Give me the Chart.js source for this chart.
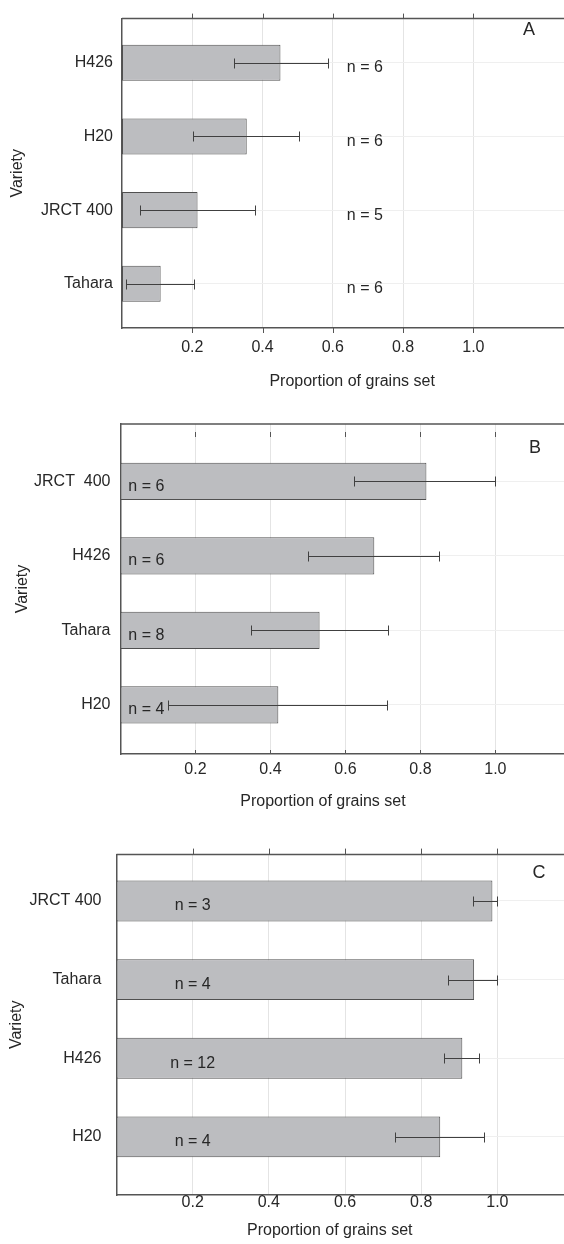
<!DOCTYPE html>
<html lang="en">
<head>
<meta charset="utf-8">
<title>Proportion of grains set</title>
<script src="https://cdn.jsdelivr.net/npm/chart.js@4.4.1/dist/chart.umd.min.js"></script>
<style>
  html, body { margin: 0; padding: 0; background: #fff; overflow: hidden; }
  .panel { position: relative; width: 564px; }
  #boxA { height: 400px; }
  #boxB { height: 430px; }
  #boxC { height: 414px; }
</style>
</head>
<body>
<div class="panel" id="boxA"><canvas id="chartA"></canvas></div>
<div class="panel" id="boxB"><canvas id="chartB"></canvas></div>
<div class="panel" id="boxC"><canvas id="chartC"></canvas></div>
<script>
// ───────────────────────── datos
const xTicks = [0.2, 0.4, 0.6, 0.8, 1.0];

const varietiesA = ['H426', 'H20', 'JRCT 400', 'Tahara'];
const meansA     = [0.451, 0.355, 0.215, 0.110];
const lowA       = [0.320, 0.203, 0.051, 0.012];
const highA      = [0.585, 0.505, 0.378, 0.206];
const nA         = [6, 6, 5, 6];

const varietiesB = ['JRCT  400', 'H426', 'Tahara', 'H20'];
const meansB     = [0.816, 0.677, 0.531, 0.421];
const lowB       = [0.624, 0.501, 0.349, 0.128];
const highB      = [1.000, 0.850, 0.714, 0.711];
const nB         = [6, 6, 8, 4];

const varietiesC = ['JRCT 400', 'Tahara', 'H426', 'H20'];
const meansC     = [0.987, 0.939, 0.908, 0.850];
const lowC       = [0.936, 0.871, 0.861, 0.732];
const highC      = [1.000, 1.000, 0.951, 0.966];
const nC         = [3, 4, 12, 4];

// ───────────────────────── estilos comunes
const FONT   = 'Liberation Sans, Arial, Helvetica, sans-serif';
const INK    = '#272727';
const FRAME  = '#555555';
const BAR    = '#bcbdc0';
const BAR_LN = '#505050';
const ERR_LN = '#404040';

// ───────────────────────── plugin: marco superior, ticks, barras de error, textos
const extras = {
  id: 'extras',
  afterDatasetsDraw (chart, args, o) {
    const { ctx, chartArea: a, scales: { x, y } } = chart;
    ctx.save();

    // marco superior
    ctx.strokeStyle = FRAME;
    ctx.lineWidth = 1.5;
    ctx.beginPath();
    ctx.moveTo(a.left, a.top);
    ctx.lineTo(a.right, a.top);
    ctx.stroke();

    // marcas de ticks (arriba y abajo)
    ctx.lineWidth = 1;
    ctx.beginPath();
    xTicks.forEach(v => {
      const px = Math.round(x.getPixelForValue(v)) + 0.5;
      if (o.topTick) {
        ctx.moveTo(px, a.top + o.topTick[0]);
        ctx.lineTo(px, a.top + o.topTick[1]);
      }
      if (o.bottomTick) {
        ctx.moveTo(px, a.bottom + o.bottomTick[0]);
        ctx.lineTo(px, a.bottom + o.bottomTick[1]);
      }
    });
    ctx.stroke();

    // barras de error
    ctx.strokeStyle = ERR_LN;
    ctx.beginPath();
    o.low.forEach((lo, i) => {
      const py = Math.round(y.getPixelForValue(i)) + 0.5;
      const x0 = Math.round(x.getPixelForValue(lo)) + 0.5;
      const x1 = Math.round(x.getPixelForValue(o.high[i])) + 0.5;
      ctx.moveTo(x0, py); ctx.lineTo(x1, py);
      ctx.moveTo(x0, py - 5); ctx.lineTo(x0, py + 5);
      ctx.moveTo(x1, py - 5); ctx.lineTo(x1, py + 5);
    });
    ctx.stroke();

    // etiquetas n = …
    ctx.fillStyle = INK;
    ctx.font = `16px ${FONT}`;
    ctx.textBaseline = 'middle';
    ctx.textAlign = o.nAlign;
    o.n.forEach((n, i) => {
      ctx.fillText(`n = ${n}`, x.getPixelForValue(o.nAt), y.getPixelForValue(i) + 5);
    });

    // letra del panel
    ctx.font = `18px ${FONT}`;
    ctx.textAlign = 'center';
    ctx.fillText(o.letter, o.letterPos[0], o.letterPos[1]);

    // título del eje x
    ctx.font = `16px ${FONT}`;
    ctx.fillText('Proportion of grains set', x.getPixelForValue(o.titleAt), o.titleY);

    ctx.restore();
  }
};

// ───────────────────────── construye un panel
function buildPanel (id, labels, means, p) {
  const ctx = document.getElementById(id).getContext('2d');
  return new Chart(ctx, {
    type: 'bar',
    data: {
      datasets: [{
        data: means.map((v, i) => ({ x: v, y: i })),
        backgroundColor: BAR,
        borderColor: BAR_LN,
        borderWidth: 1,
        borderSkipped: false,
        barPercentage: p.barPct,
        categoryPercentage: 1
      }]
    },
    options: {
      indexAxis: 'y',
      responsive: true,
      maintainAspectRatio: false,
      animation: false,
      layout: { padding: { top: p.top, left: 0, right: 0, bottom: 0 } },
      scales: {
        x: {
          type: 'linear',
          min: 0,
          max: p.xMax,
          afterBuildTicks: s => { s.ticks = xTicks.map(v => ({ value: v })); },
          afterFit: s => { s.height = p.xHeight; },
          ticks: {
            callback: v => v.toFixed(1),
            padding: p.xPad,
            maxRotation: 0,
            color: INK,
            font: { family: FONT, size: 16, lineHeight: 1 }
          },
          grid: { color: '#e4e4e4', drawTicks: false },
          border: { color: FRAME, width: 1.5 }
        },
        y: {
          type: 'linear',
          reverse: true,
          offset: false,
          min: p.yMin,
          max: p.yMax,
          afterBuildTicks: s => { s.ticks = labels.map((_, i) => ({ value: i })); },
          afterFit: s => { s.width = p.left; },
          ticks: {
            callback: v => labels[v],
            padding: p.yPad,
            color: INK,
            font: { family: FONT, size: 16 }
          },
          grid: { color: '#efefef', drawTicks: false, offset: false },
          border: { color: FRAME, width: 1.5 },
          title: {
            display: true,
            text: 'Variety',
            color: INK,
            font: { family: FONT, size: 16 },
            padding: { top: p.vTitle, bottom: 0 }
          }
        }
      },
      plugins: {
        legend: { display: false },
        tooltip: { enabled: false },
        extras: p.extras
      }
    },
    plugins: [extras]
  });
}

buildPanel('chartA', varietiesA, meansA, {
  top: 8, left: 122, xHeight: 72, xMax: 1.258, xPad: 12, yPad: 9,
  yMin: -0.6, yMax: 3.6, barPct: 0.49, vTitle: 8.4,
  extras: {
    low: lowA, high: highA, n: nA, nAt: 0.64, nAlign: 'left',
    topTick: [-5, 0], bottomTick: [0, 5],
    letter: 'A', letterPos: [529, 30], titleAt: 0.655, titleY: 382
  }
});

buildPanel('chartB', varietiesB, meansB, {
  top: 24, left: 120.5, xHeight: 76, xMax: 1.183, xPad: 8, yPad: 10,
  yMin: -0.77, yMax: 3.66, barPct: 0.5, vTitle: 13.4,
  extras: {
    low: lowB, high: highB, n: nB, nAt: 0.021, nAlign: 'left',
    topTick: [8, 13], bottomTick: [-4, 0],
    letter: 'B', letterPos: [535, 48], titleAt: 0.54, titleY: 402
  }
});

buildPanel('chartC', varietiesC, meansC, {
  top: 21, left: 116.5, xHeight: 49, xMax: 1.175, xPad: 0, yPad: 15,
  yMin: -0.59, yMax: 3.74, barPct: 0.52, vTitle: 6.9,
  extras: {
    low: lowC, high: highC, n: nC, nAt: 0.2, nAlign: 'center',
    topTick: [-6, 0], bottomTick: null,
    letter: 'C', letterPos: [539, 43], titleAt: 0.56, titleY: 401
  }
});
</script>
</body>
</html>
